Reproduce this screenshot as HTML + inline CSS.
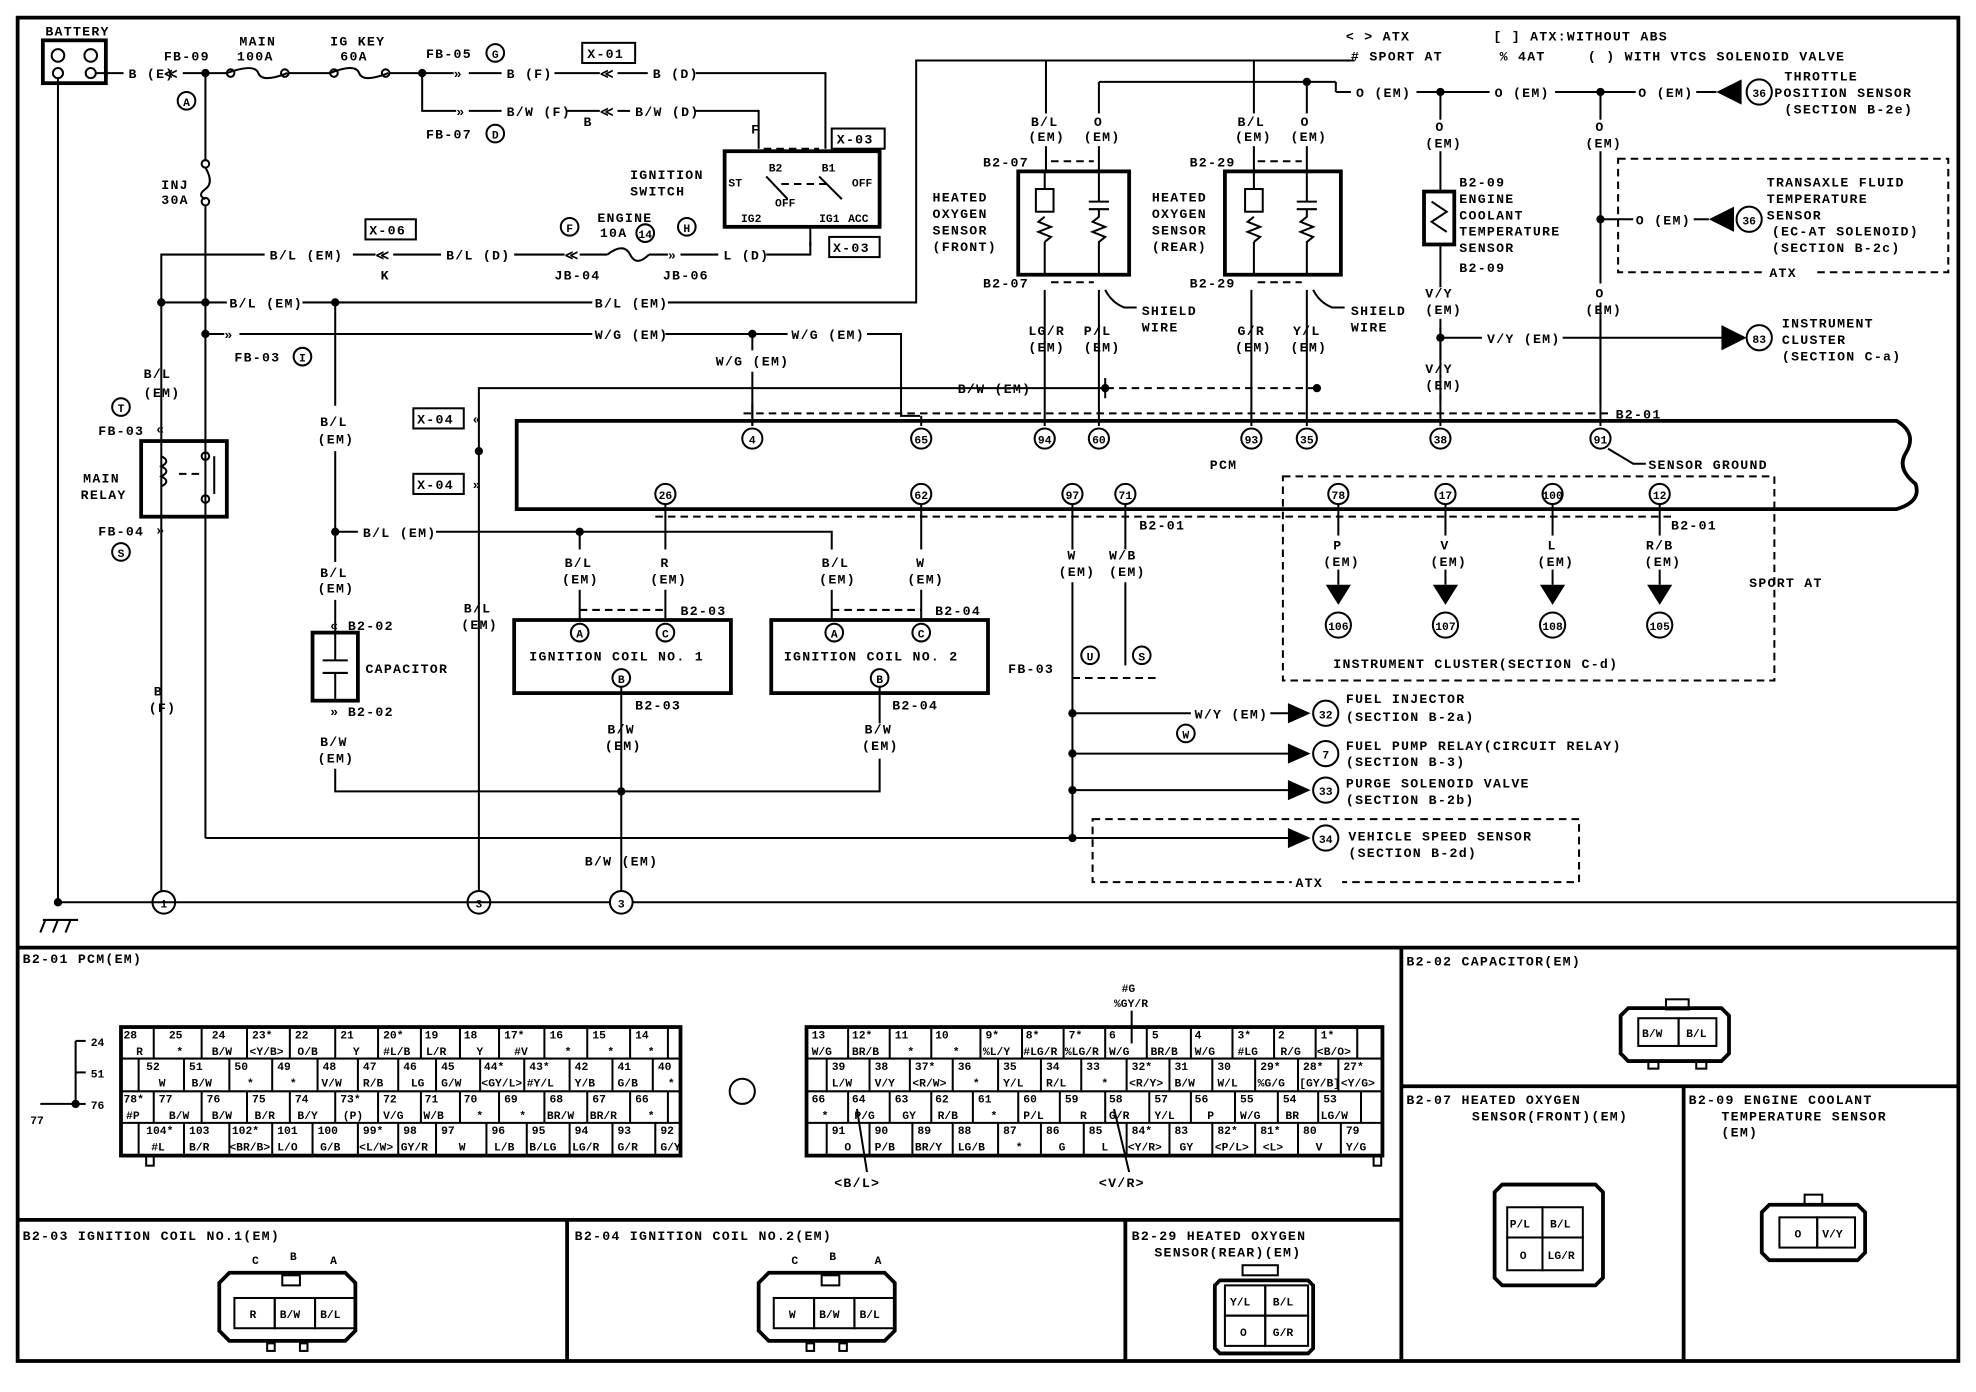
<!DOCTYPE html>
<html><head><meta charset="utf-8"><style>
html,body{margin:0;padding:0;background:#fff;}
svg{display:block}
text{font-family:"Liberation Mono",monospace;font-weight:bold;font-size:10.5px;fill:#000;letter-spacing:1px}
.s{font-size:9px;letter-spacing:0}
.c{text-anchor:middle}
line,polyline,path,rect,circle{stroke:#000;fill:none;stroke-width:1.6}
.t{stroke-width:3}
.d{stroke-dasharray:6 4}
.f{fill:#000}
.w{fill:#fff}
</style></head><body>
<svg width="1976" height="1392" viewBox="0 0 1568 1104.6" preserveAspectRatio="none">
<rect x="14" y="14" width="1540" height="1066" class="t"/>
<line x1="14" y1="752" x2="1554" y2="752" class="t"/>
<line x1="1112" y1="752" x2="1112" y2="1080" class="t"/>
<line x1="1112" y1="862" x2="1554" y2="862" class="t"/>
<line x1="1336" y1="862" x2="1336" y2="1080" class="t"/>
<line x1="14" y1="968" x2="1112" y2="968" class="t"/>
<line x1="450" y1="968" x2="450" y2="1080" class="t"/>
<line x1="893" y1="968" x2="893" y2="1080" class="t"/>

<!-- legend -->
<text x="1068" y="32">&lt; &gt; ATX</text><text x="1185" y="32">[ ] ATX:WITHOUT ABS</text>
<text x="1072" y="48"># SPORT AT</text><text x="1190" y="48">% 4AT</text><text x="1260" y="48">( ) WITH VTCS SOLENOID VALVE</text>

<!-- battery -->
<text x="36" y="28">BATTERY</text>
<rect x="34" y="32" width="50" height="34" class="t"/>
<circle cx="46" cy="44" r="5"/><circle cx="72" cy="44" r="5"/>
<circle cx="46" cy="58" r="4"/><circle cx="72" cy="58" r="4"/>
<line x1="46" y1="62" x2="46" y2="716"/>
<line x1="76" y1="58" x2="98" y2="58"/>
<text x="102" y="62">B (E)</text>
<text x="130" y="48">FB-09</text><text x="130" y="62">≪</text>
<circle cx="148" cy="80" r="7"/><text x="148" y="84" class="c s">A</text>
<line x1="145" y1="58" x2="180" y2="58"/><circle cx="163" cy="58" r="2.5" class="f"/>
<text x="190" y="36">MAIN</text><text x="188" y="48">100A</text>
<path d="M180 58 Q 202 50 205 58 T 228 58"/><circle cx="183" cy="58" r="3"/><circle cx="226" cy="58" r="3"/>
<line x1="229" y1="58" x2="262" y2="58"/>
<text x="262" y="36">IG KEY</text><text x="270" y="48">60A</text>
<path d="M262 58 Q 282 50 285 58 T 308 58"/><circle cx="265" cy="58" r="3"/><circle cx="306" cy="58" r="3"/>
<line x1="309" y1="58" x2="360" y2="58"/><circle cx="335" cy="58" r="2.5" class="f"/>
<text x="338" y="46">FB-05</text><circle cx="393" cy="42" r="7"/><text x="393" y="46" class="c s">G</text>
<text x="360" y="62">»</text><line x1="372" y1="58" x2="398" y2="58"/><text x="402" y="62">B (F)</text>
<line x1="440" y1="58" x2="476" y2="58"/><text x="476" y="62">≪</text>
<rect x="462" y="34" width="42" height="16"/><text x="466" y="46">X-01</text>
<line x1="490" y1="58" x2="514" y2="58"/><text x="518" y="62">B (D)</text>
<polyline points="552,58 655,58 655,118"/>
<polyline points="335,58 335,88 362,88"/><text x="362" y="92">»</text>
<line x1="372" y1="88" x2="398" y2="88"/><text x="402" y="92">B/W (F)</text>
<line x1="450" y1="88" x2="476" y2="88"/><text x="476" y="92">≪</text><text x="463" y="100">B</text>
<line x1="490" y1="88" x2="500" y2="88"/><text x="504" y="92">B/W (D)</text>
<polyline points="552,88 602,88 602,118"/>
<text x="338" y="110">FB-07</text><circle cx="393" cy="106" r="7"/><text x="393" y="110" class="c s">D</text>
<text x="596" y="106">F</text>
<line x1="606" y1="118" x2="650" y2="118" class="d"/>
<rect x="660" y="102" width="42" height="16"/><text x="664" y="114">X-03</text>
<rect x="575" y="120" width="123" height="60" class="t"/>
<text x="500" y="142">IGNITION</text><text x="500" y="155">SWITCH</text>
<text x="578" y="148" class="s">ST</text><text x="610" y="136" class="s">B2</text><text x="652" y="136" class="s">B1</text>
<text x="615" y="164" class="s">OFF</text><text x="676" y="148" class="s">OFF</text>
<text x="588" y="176" class="s">IG2</text><text x="650" y="176" class="s">IG1</text><text x="673" y="176" class="s">ACC</text>
<line x1="608" y1="140" x2="625" y2="158"/><line x1="650" y1="140" x2="668" y2="158"/>
<line x1="620" y1="146" x2="656" y2="146" class="d"/>
<polyline points="643,180 643,195"/>
<rect x="658" y="188" width="40" height="16"/><text x="661" y="200">X-03</text>

<!-- INJ fuse and main vertical -->
<line x1="163" y1="58" x2="163" y2="128"/>
<circle cx="163" cy="130" r="3"/><path d="M163 133 Q 170 145 163 150 T 163 158"/><circle cx="163" cy="160" r="3"/>
<text x="128" y="150">INJ</text><text x="128" y="162">30A</text>
<line x1="163" y1="163" x2="163" y2="665"/>
<polyline points="163,665 850,665"/>
<circle cx="163" cy="240" r="2.5" class="f"/><circle cx="163" cy="265" r="2.5" class="f"/>

<!-- y=202 -->
<polyline points="128,716 128,202 210,202"/>
<text x="214" y="206">B/L (EM)</text>
<line x1="280" y1="202" x2="298" y2="202"/><text x="298" y="206">≪</text><text x="302" y="222">K</text>
<rect x="290" y="174" width="40" height="16"/><text x="293" y="186">X-06</text>
<line x1="312" y1="202" x2="350" y2="202"/><text x="354" y="206">B/L (D)</text>
<line x1="408" y1="202" x2="448" y2="202"/><text x="448" y="206">≪</text>
<circle cx="452" cy="180" r="7"/><text x="452" y="184" class="c s">F</text>
<text x="440" y="222">JB-04</text>
<text x="474" y="176">ENGINE</text><text x="476" y="188">10A</text><circle cx="512" cy="185" r="7"/><text x="512" y="189" class="c s">14</text>
<line x1="460" y1="202" x2="482" y2="202"/><path d="M482 202 Q 495 192 500 202 T 515 202"/>
<line x1="515" y1="202" x2="530" y2="202"/><text x="530" y="206">»</text>
<circle cx="545" cy="180" r="7"/><text x="545" y="184" class="c s">H</text>
<text x="526" y="222">JB-06</text>
<line x1="540" y1="202" x2="570" y2="202"/><text x="574" y="206">L (D)</text>
<polyline points="608,202 643,202 643,192"/>

<!-- y=240 -->
<circle cx="128" cy="240" r="2.5" class="f"/>
<line x1="128" y1="240" x2="180" y2="240"/><text x="182" y="244">B/L (EM)</text>
<line x1="240" y1="240" x2="470" y2="240"/><text x="472" y="244">B/L (EM)</text>
<polyline points="530,240 727,240 727,48 1075,48"/>
<circle cx="266" cy="240" r="2.5" class="f"/>
<line x1="266" y1="240" x2="266" y2="322"/>
<text x="254" y="338">B/L</text><text x="252" y="352">(EM)</text>
<line x1="266" y1="358" x2="266" y2="446"/><circle cx="266" cy="422" r="2.5" class="f"/>
<line x1="266" y1="422" x2="284" y2="422"/><text x="288" y="426">B/L (EM)</text>
<polyline points="346,422 460,422 460,436"/><circle cx="460" cy="422" r="2.5" class="f"/>
<polyline points="460,422 660,422 660,436"/>
<text x="254" y="458">B/L</text><text x="252" y="470">(EM)</text>
<line x1="266" y1="476" x2="266" y2="502"/><text x="262" y="500">«</text><text x="276" y="500">B2-02</text>
<rect x="248" y="502" width="36" height="54" class="t"/>
<line x1="256" y1="524" x2="276" y2="524"/><line x1="256" y1="534" x2="276" y2="534"/>
<line x1="266" y1="502" x2="266" y2="524"/><line x1="266" y1="534" x2="266" y2="556"/>
<text x="290" y="534">CAPACITOR</text>
<text x="262" y="568">»</text><text x="276" y="568">B2-02</text>
<text x="254" y="592">B/W</text><text x="252" y="605">(EM)</text>
<polyline points="266,610 266,628 698,628 698,602"/>

<!-- y=265 -->
<line x1="163" y1="265" x2="178" y2="265"/><text x="178" y="269">»</text>
<line x1="190" y1="265" x2="470" y2="265"/><text x="472" y="269">W/G (EM)</text>
<line x1="528" y1="265" x2="625" y2="265"/><circle cx="597" cy="265" r="2.5" class="f"/>
<text x="628" y="269">W/G (EM)</text><polyline points="688,265 715,265 715,330 730,330"/>
<line x1="597" y1="265" x2="597" y2="278"/><text x="568" y="290">W/G (EM)</text><line x1="597" y1="295" x2="597" y2="338"/>
<text x="186" y="287">FB-03</text><circle cx="240" cy="283" r="7"/><text x="240" y="287" class="c s">I</text>

<!-- relay -->
<text x="114" y="300">B/L</text><text x="114" y="303" dy="12">(EM)</text>
<circle cx="96" cy="323" r="7"/><text x="96" y="327" class="c s">T</text>
<text x="78" y="345">FB-03</text><text x="124" y="344">«</text>
<rect x="112" y="350" width="68" height="60" class="t"/>
<text x="66" y="383">MAIN</text><text x="64" y="396">RELAY</text>
<path d="M128 362 q 8 4 0 8 q 8 4 0 8 q 8 4 0 8"/><line x1="142" y1="376" x2="160" y2="376" class="d"/>
<circle cx="163" cy="362" r="3"/><circle cx="163" cy="396" r="3"/><line x1="170" y1="362" x2="170" y2="392"/>
<text x="78" y="425">FB-04</text><text x="124" y="424">»</text>
<circle cx="96" cy="438" r="7"/><text x="96" y="442" class="c s">S</text>
<text x="122" y="552">B</text><text x="118" y="565">(F)</text>
<circle cx="130" cy="716" r="9" class="w"/><text x="130" y="720" class="c s">1</text>

<!-- B/W y=308 -->
<polyline points="380,716 380,308 878,308"/><line x1="878" y1="308" x2="1045" y2="308" class="d"/>
<text x="760" y="312">B/W (EM)</text>
<circle cx="380" cy="358" r="2.5" class="f"/>
<rect x="328" y="324" width="40" height="16"/><text x="331" y="336">X-04</text><text x="375" y="336">«</text>
<rect x="328" y="376" width="40" height="16"/><text x="331" y="388">X-04</text><text x="375" y="388">»</text>
<text x="368" y="486">B/L</text><text x="366" y="499">(EM)</text>
<circle cx="380" cy="716" r="9" class="w"/><text x="380" y="720" class="c s">3</text>

<!-- ground line -->
<line x1="46" y1="716" x2="1554" y2="716"/>
<circle cx="46" cy="716" r="2.5" class="f"/>
<line x1="34" y1="730" x2="62" y2="730"/><line x1="36" y1="730" x2="32" y2="740"/><line x1="46" y1="730" x2="42" y2="740"/><line x1="56" y1="730" x2="52" y2="740"/>

<!-- PCM -->
<path d="M410 334 L1505 334 Q1522 344 1512 360 Q1505 372 1520 384 Q1525 398 1505 404 L410 404 Z" class="t"/>
<text x="960" y="372">PCM</text>
<line x1="590" y1="328" x2="1280" y2="328" class="d"/>
<line x1="520" y1="410" x2="1330" y2="410" class="d"/>
<g>
<line x1="597" y1="320" x2="597" y2="338"/><circle cx="597" cy="348" r="8" class="w"/><text x="597" y="352" class="c s">4</text>
<line x1="731" y1="330" x2="731" y2="338"/><circle cx="731" cy="348" r="8" class="w"/><text x="731" y="352" class="c s">65</text>
<line x1="829" y1="230" x2="829" y2="338"/><circle cx="829" cy="348" r="8" class="w"/><text x="829" y="352" class="c s">94</text>
<line x1="872" y1="230" x2="872" y2="338"/><circle cx="872" cy="348" r="8" class="w"/><text x="872" y="352" class="c s">60</text>
<line x1="993" y1="230" x2="993" y2="338"/><circle cx="993" cy="348" r="8" class="w"/><text x="993" y="352" class="c s">93</text>
<line x1="1037" y1="230" x2="1037" y2="338"/><circle cx="1037" cy="348" r="8" class="w"/><text x="1037" y="352" class="c s">35</text>
<line x1="1143" y1="260" x2="1143" y2="338"/><circle cx="1143" cy="348" r="8" class="w"/><text x="1143" y="352" class="c s">38</text>
<line x1="1270" y1="240" x2="1270" y2="338"/><circle cx="1270" cy="348" r="8" class="w"/><text x="1270" y="352" class="c s">91</text>
<text x="1282" y="332">B2-01</text>
<polyline points="1276,356 1296,368 1306,368"/><text x="1308" y="372">SENSOR GROUND</text>
<line x1="877" y1="300" x2="877" y2="316"/><circle cx="877" cy="308" r="2.5" class="f"/><circle cx="1045" cy="308" r="2.5" class="f"/>
</g>
<g>
<circle cx="528" cy="392" r="8" class="w"/><text x="528" y="396" class="c s">26</text><line x1="528" y1="400" x2="528" y2="436"/>
<circle cx="731" cy="392" r="8" class="w"/><text x="731" y="396" class="c s">62</text><line x1="731" y1="400" x2="731" y2="436"/>
<circle cx="851" cy="392" r="8" class="w"/><text x="851" y="396" class="c s">97</text><line x1="851" y1="400" x2="851" y2="436"/>
<circle cx="893" cy="392" r="8" class="w"/><text x="893" y="396" class="c s">71</text><line x1="893" y1="400" x2="893" y2="436"/>
<text x="904" y="420">B2-01</text>
<text x="448" y="450">B/L</text><text x="446" y="463">(EM)</text>
<text x="524" y="450">R</text><text x="516" y="463">(EM)</text>
<text x="652" y="450">B/L</text><text x="650" y="463">(EM)</text>
<text x="727" y="450">W</text><text x="720" y="463">(EM)</text>
<text x="847" y="444">W</text><text x="840" y="457">(EM)</text>
<text x="880" y="444">W/B</text><text x="880" y="457">(EM)</text>
</g>
<!-- coils -->
<line x1="460" y1="468" x2="460" y2="492"/><line x1="528" y1="468" x2="528" y2="492"/>
<line x1="460" y1="484" x2="528" y2="484" class="d"/><text x="540" y="488">B2-03</text>
<rect x="408" y="492" width="172" height="58" class="t"/>
<circle cx="460" cy="502" r="7"/><text x="460" y="506" class="c s">A</text>
<circle cx="528" cy="502" r="7"/><text x="528" y="506" class="c s">C</text>
<text x="420" y="524">IGNITION COIL NO. 1</text>
<circle cx="493" cy="538" r="7"/><text x="493" y="542" class="c s">B</text>
<line x1="493" y1="545" x2="493" y2="716"/><text x="504" y="563">B2-03</text>
<text x="482" y="582">B/W</text><text x="480" y="595">(EM)</text>
<circle cx="493" cy="628" r="2.5" class="f"/>
<text x="464" y="687">B/W (EM)</text>
<circle cx="493" cy="716" r="9" class="w"/><text x="493" y="720" class="c s">3</text>
<line x1="660" y1="468" x2="660" y2="492"/><line x1="731" y1="468" x2="731" y2="492"/>
<line x1="660" y1="484" x2="731" y2="484" class="d"/><text x="742" y="488">B2-04</text>
<rect x="612" y="492" width="172" height="58" class="t"/>
<circle cx="662" cy="502" r="7"/><text x="662" y="506" class="c s">A</text>
<circle cx="731" cy="502" r="7"/><text x="731" y="506" class="c s">C</text>
<text x="622" y="524">IGNITION COIL NO. 2</text>
<circle cx="698" cy="538" r="7"/><text x="698" y="542" class="c s">B</text>
<line x1="698" y1="545" x2="698" y2="574"/><text x="708" y="563">B2-04</text>
<text x="686" y="582">B/W</text><text x="684" y="595">(EM)</text>

<!-- right lower feeds -->
<line x1="851" y1="462" x2="851" y2="665"/><line x1="893" y1="462" x2="893" y2="528"/>
<line x1="851" y1="538" x2="920" y2="538" class="d"/>
<text x="800" y="534">FB-03</text>
<circle cx="865" cy="520" r="7"/><text x="865" y="524" class="c s">U</text>
<circle cx="906" cy="520" r="7"/><text x="906" y="524" class="c s">S</text>
<polyline points="851,566 945,566"/><text x="948" y="570">W/Y (EM)</text><line x1="1008" y1="566" x2="1022" y2="566"/>
<circle cx="941" cy="582" r="7"/><text x="941" y="586" class="c s">W</text>
<line x1="851" y1="598" x2="1022" y2="598"/><line x1="851" y1="627" x2="1022" y2="627"/>
<line x1="850" y1="665" x2="1022" y2="665"/>
<circle cx="851" cy="566" r="2.5" class="f"/><circle cx="851" cy="598" r="2.5" class="f"/><circle cx="851" cy="627" r="2.5" class="f"/><circle cx="851" cy="665" r="2.5" class="f"/>
<g>
<polygon points="1022,558 1040,566 1022,574" class="f"/><circle cx="1052" cy="566" r="10" class="w"/><text x="1052" y="570" class="c s">32</text>
<text x="1068" y="558">FUEL INJECTOR</text><text x="1068" y="572">(SECTION B-2a)</text>
<polygon points="1022,590 1040,598 1022,606" class="f"/><circle cx="1052" cy="598" r="10" class="w"/><text x="1052" y="602" class="c s">7</text>
<text x="1068" y="595">FUEL PUMP RELAY(CIRCUIT RELAY)</text><text x="1068" y="608">(SECTION B-3)</text>
<polygon points="1022,619 1040,627 1022,635" class="f"/><circle cx="1052" cy="627" r="10" class="w"/><text x="1052" y="631" class="c s">33</text>
<text x="1068" y="625">PURGE SOLENOID VALVE</text><text x="1068" y="638">(SECTION B-2b)</text>
<polygon points="1022,657 1040,665 1022,673" class="f"/><circle cx="1052" cy="665" r="10" class="w"/><text x="1052" y="669" class="c s">34</text>
<text x="1070" y="667">VEHICLE SPEED SENSOR</text><text x="1070" y="680">(SECTION B-2d)</text>
</g>
<rect x="867" y="650" width="386" height="50" class="d"/><rect x="1025" y="695" width="40" height="10" style="fill:#fff;stroke:none"/><text x="1028" y="704">ATX</text>

<!-- sport AT -->
<rect x="1018" y="378" width="390" height="162" class="d"/>
<text x="1388" y="466">SPORT AT</text>
<g>
<circle cx="1062" cy="392" r="8" class="w"/><text x="1062" y="396" class="c s">78</text>
<circle cx="1147" cy="392" r="8" class="w"/><text x="1147" y="396" class="c s">17</text>
<circle cx="1232" cy="392" r="8" class="w"/><text x="1232" y="396" class="c s">100</text>
<circle cx="1317" cy="392" r="8" class="w"/><text x="1317" y="396" class="c s">12</text>
<text x="1326" y="420">B2-01</text>
<line x1="1062" y1="400" x2="1062" y2="425"/><line x1="1147" y1="400" x2="1147" y2="425"/><line x1="1232" y1="400" x2="1232" y2="425"/><line x1="1317" y1="400" x2="1317" y2="425"/>
<text x="1058" y="436">P</text><text x="1050" y="449">(EM)</text>
<text x="1143" y="436">V</text><text x="1135" y="449">(EM)</text>
<text x="1228" y="436">L</text><text x="1220" y="449">(EM)</text>
<text x="1306" y="436">R/B</text><text x="1305" y="449">(EM)</text>
<polygon points="1052,464 1072,464 1062,480" class="f"/><circle cx="1062" cy="496" r="10" class="w"/><text x="1062" y="500" class="c s">106</text>
<polygon points="1137,464 1157,464 1147,480" class="f"/><circle cx="1147" cy="496" r="10" class="w"/><text x="1147" y="500" class="c s">107</text>
<polygon points="1222,464 1242,464 1232,480" class="f"/><circle cx="1232" cy="496" r="10" class="w"/><text x="1232" y="500" class="c s">108</text>
<polygon points="1307,464 1327,464 1317,480" class="f"/><circle cx="1317" cy="496" r="10" class="w"/><text x="1317" y="500" class="c s">105</text>
<line x1="1062" y1="452" x2="1062" y2="464"/><line x1="1147" y1="452" x2="1147" y2="464"/><line x1="1232" y1="452" x2="1232" y2="464"/><line x1="1317" y1="452" x2="1317" y2="464"/>
</g>
<text x="1058" y="530">INSTRUMENT CLUSTER(SECTION C-d)</text>

<!-- O2 sensors -->
<line x1="830" y1="48" x2="830" y2="90"/><text x="818" y="100">B/L</text><text x="816" y="112">(EM)</text>
<polyline points="872,65 872,90"/><line x1="872" y1="65" x2="1060" y2="65"/>
<text x="868" y="100">O</text><text x="860" y="112">(EM)</text>
<line x1="830" y1="116" x2="830" y2="136"/><line x1="872" y1="116" x2="872" y2="136"/>
<text x="780" y="132">B2-07</text><line x1="834" y1="128" x2="868" y2="128" class="d"/>
<rect x="808" y="136" width="88" height="82" class="t"/>
<text x="740" y="160">HEATED</text><text x="740" y="173">OXYGEN</text><text x="740" y="186">SENSOR</text><text x="740" y="199">(FRONT)</text>
<rect x="822" y="150" width="14" height="18"/><path d="M829 172 l-5 4 l10 4 l-10 4 l10 4 l-5 4"/>
<line x1="829" y1="136" x2="829" y2="150"/><line x1="829" y1="192" x2="829" y2="218"/>
<line x1="872" y1="136" x2="872" y2="160"/><line x1="864" y1="160" x2="880" y2="160"/><line x1="864" y1="166" x2="880" y2="166"/>
<path d="M872 166 v6 l-5 4 l10 4 l-10 4 l10 4 l-5 4 v26"/>
<text x="780" y="228">B2-07</text><line x1="834" y1="224" x2="868" y2="224" class="d"/>
<text x="816" y="266">LG/R</text><text x="816" y="279">(EM)</text>
<text x="860" y="266">P/L</text><text x="860" y="279">(EM)</text>
<path d="M877 230 q 5 10 15 14 l10 0"/><text x="906" y="250">SHIELD</text><text x="906" y="263">WIRE</text>

<line x1="995" y1="48" x2="995" y2="90"/><text x="982" y="100">B/L</text><text x="980" y="112">(EM)</text>
<line x1="1037" y1="65" x2="1037" y2="90"/><circle cx="1037" cy="65" r="2.5" class="f"/>
<text x="1032" y="100">O</text><text x="1024" y="112">(EM)</text>
<line x1="995" y1="116" x2="995" y2="136"/><line x1="1037" y1="116" x2="1037" y2="136"/>
<text x="944" y="132">B2-29</text><line x1="998" y1="128" x2="1033" y2="128" class="d"/>
<rect x="972" y="136" width="92" height="82" class="t"/>
<text x="914" y="160">HEATED</text><text x="914" y="173">OXYGEN</text><text x="914" y="186">SENSOR</text><text x="914" y="199">(REAR)</text>
<rect x="988" y="150" width="14" height="18"/><path d="M995 172 l-5 4 l10 4 l-10 4 l10 4 l-5 4"/>
<line x1="995" y1="136" x2="995" y2="150"/><line x1="995" y1="192" x2="995" y2="218"/>
<line x1="1037" y1="136" x2="1037" y2="160"/><line x1="1029" y1="160" x2="1045" y2="160"/><line x1="1029" y1="166" x2="1045" y2="166"/>
<path d="M1037 166 v6 l-5 4 l10 4 l-10 4 l10 4 l-5 4 v26"/>
<text x="944" y="228">B2-29</text><line x1="998" y1="224" x2="1033" y2="224" class="d"/>
<text x="982" y="266">G/R</text><text x="980" y="279">(EM)</text>
<text x="1026" y="266">Y/L</text><text x="1024" y="279">(EM)</text>
<path d="M1042 230 q 5 10 15 14 l10 0"/><text x="1072" y="250">SHIELD</text><text x="1072" y="263">WIRE</text>

<!-- O(EM) line right -->
<text x="1076" y="77">O (EM)</text><line x1="1124" y1="73" x2="1182" y2="73"/><circle cx="1143" cy="73" r="2.5" class="f"/>
<line x1="1060" y1="65" x2="1060" y2="73"/><line x1="1060" y1="73" x2="1072" y2="73"/>
<text x="1186" y="77">O (EM)</text><line x1="1234" y1="73" x2="1298" y2="73"/><circle cx="1270" cy="73" r="2.5" class="f"/>
<text x="1300" y="77">O (EM)</text><line x1="1346" y1="73" x2="1362" y2="73"/>
<polygon points="1382,63 1362,73 1382,83" class="f"/><circle cx="1396" cy="73" r="10" class="w"/><text x="1396" y="77" class="c s">36</text>
<text x="1416" y="64">THROTTLE</text><text x="1408" y="77">POSITION SENSOR</text><text x="1416" y="90">(SECTION B-2e)</text>
<line x1="1143" y1="73" x2="1143" y2="95"/><text x="1139" y="104">O</text><text x="1131" y="117">(EM)</text>
<line x1="1143" y1="120" x2="1143" y2="152"/>
<rect x="1130" y="152" width="24" height="42" class="t"/><path d="M1136 160 l12 8 l-12 8 l12 8"/>
<text x="1158" y="148">B2-09</text><text x="1158" y="161">ENGINE</text><text x="1158" y="174">COOLANT</text><text x="1158" y="187">TEMPERATURE</text><text x="1158" y="200">SENSOR</text><text x="1158" y="216">B2-09</text>
<line x1="1143" y1="194" x2="1143" y2="228"/>
<text x="1131" y="236">V/Y</text><text x="1131" y="249">(EM)</text>
<line x1="1143" y1="253" x2="1143" y2="286"/><circle cx="1143" cy="268" r="2.5" class="f"/>
<line x1="1143" y1="268" x2="1176" y2="268"/><text x="1180" y="272">V/Y (EM)</text><line x1="1240" y1="268" x2="1366" y2="268"/>
<polygon points="1366,258 1386,268 1366,278" class="f"/><circle cx="1396" cy="268" r="10" class="w"/><text x="1396" y="272" class="c s">83</text>
<text x="1414" y="260">INSTRUMENT</text><text x="1414" y="273">CLUSTER</text><text x="1414" y="286">(SECTION C-a)</text>
<text x="1131" y="296">V/Y</text><text x="1131" y="309">(EM)</text><line x1="1143" y1="313" x2="1143" y2="320"/>
<line x1="1270" y1="73" x2="1270" y2="95"/><text x="1266" y="104">O</text><text x="1258" y="117">(EM)</text>
<line x1="1270" y1="120" x2="1270" y2="225"/><circle cx="1270" cy="174" r="2.5" class="f"/>
<line x1="1270" y1="174" x2="1296" y2="174"/><text x="1298" y="178">O (EM)</text><line x1="1344" y1="174" x2="1356" y2="174"/>
<polygon points="1376,164 1356,174 1376,184" class="f"/><circle cx="1388" cy="174" r="10" class="w"/><text x="1388" y="178" class="c s">36</text>
<text x="1402" y="148">TRANSAXLE FLUID</text><text x="1402" y="161">TEMPERATURE</text><text x="1402" y="174">SENSOR</text><text x="1406" y="187">(EC-AT SOLENOID)</text><text x="1406" y="200">(SECTION B-2c)</text>
<rect x="1284" y="126" width="262" height="90" class="d"/><rect x="1400" y="211" width="40" height="10" style="fill:#fff;stroke:none"/><text x="1404" y="220">ATX</text>
<text x="1266" y="236">O</text><text x="1258" y="249">(EM)</text><line x1="1270" y1="253" x2="1270" y2="320"/>

<!-- bottom: PCM connector -->
<text x="18" y="764">B2-01 PCM(EM)</text>
<text x="18" y="766" dy="0"></text>
<polyline points="60,826 60,876 32,876"/><line x1="60" y1="826" x2="68" y2="826"/><line x1="60" y1="851" x2="68" y2="851"/><line x1="60" y1="876" x2="68" y2="876"/>
<circle cx="60" cy="876" r="2.5" class="f"/>
<text x="72" y="830" class="s">24</text><text x="72" y="855" class="s">51</text><text x="72" y="880" class="s">76</text><text x="24" y="892" class="s">77</text>
<rect x="96" y="815" width="444" height="102" class="t"/>
<g class="s">
<line x1="96" y1="840" x2="540" y2="840"/><line x1="96" y1="866" x2="540" y2="866"/><line x1="96" y1="891" x2="540" y2="891"/>
</g>
<!-- row1 -->
<g>
<line x1="122" y1="815" x2="122" y2="840"/><line x1="160" y1="815" x2="160" y2="840"/><line x1="196" y1="815" x2="196" y2="840"/><line x1="230" y1="815" x2="230" y2="840"/><line x1="266" y1="815" x2="266" y2="840"/><line x1="300" y1="815" x2="300" y2="840"/><line x1="334" y1="815" x2="334" y2="840"/><line x1="365" y1="815" x2="365" y2="840"/><line x1="396" y1="815" x2="396" y2="840"/><line x1="432" y1="815" x2="432" y2="840"/><line x1="466" y1="815" x2="466" y2="840"/><line x1="500" y1="815" x2="500" y2="840"/><line x1="530" y1="815" x2="530" y2="840"/>
<text x="98" y="824" class="s">28</text><text x="108" y="837" class="s">R</text>
<text x="134" y="824" class="s">25</text><text x="140" y="837" class="s">*</text>
<text x="168" y="824" class="s">24</text><text x="168" y="837" class="s">B/W</text>
<text x="200" y="824" class="s">23*</text><text x="198" y="837" class="s">&lt;Y/B&gt;</text>
<text x="234" y="824" class="s">22</text><text x="236" y="837" class="s">O/B</text>
<text x="270" y="824" class="s">21</text><text x="280" y="837" class="s">Y</text>
<text x="304" y="824" class="s">20*</text><text x="304" y="837" class="s">#L/B</text>
<text x="337" y="824" class="s">19</text><text x="338" y="837" class="s">L/R</text>
<text x="368" y="824" class="s">18</text><text x="378" y="837" class="s">Y</text>
<text x="400" y="824" class="s">17*</text><text x="408" y="837" class="s">#V</text>
<text x="436" y="824" class="s">16</text><text x="448" y="837" class="s">*</text>
<text x="470" y="824" class="s">15</text><text x="482" y="837" class="s">*</text>
<text x="504" y="824" class="s">14</text><text x="514" y="837" class="s">*</text>
</g>
<g>
<line x1="110" y1="840" x2="110" y2="866"/><line x1="146" y1="840" x2="146" y2="866"/><line x1="182" y1="840" x2="182" y2="866"/><line x1="216" y1="840" x2="216" y2="866"/><line x1="252" y1="840" x2="252" y2="866"/><line x1="284" y1="840" x2="284" y2="866"/><line x1="316" y1="840" x2="316" y2="866"/><line x1="346" y1="840" x2="346" y2="866"/><line x1="381" y1="840" x2="381" y2="866"/><line x1="416" y1="840" x2="416" y2="866"/><line x1="452" y1="840" x2="452" y2="866"/><line x1="486" y1="840" x2="486" y2="866"/><line x1="518" y1="840" x2="518" y2="866"/>
<text x="116" y="849" class="s">52</text><text x="126" y="862" class="s">W</text>
<text x="150" y="849" class="s">51</text><text x="152" y="862" class="s">B/W</text>
<text x="186" y="849" class="s">50</text><text x="196" y="862" class="s">*</text>
<text x="220" y="849" class="s">49</text><text x="230" y="862" class="s">*</text>
<text x="256" y="849" class="s">48</text><text x="255" y="862" class="s">V/W</text>
<text x="288" y="849" class="s">47</text><text x="288" y="862" class="s">R/B</text>
<text x="320" y="849" class="s">46</text><text x="326" y="862" class="s">LG</text>
<text x="350" y="849" class="s">45</text><text x="350" y="862" class="s">G/W</text>
<text x="384" y="849" class="s">44*</text><text x="382" y="862" class="s">&lt;GY/L&gt;</text>
<text x="420" y="849" class="s">43*</text><text x="418" y="862" class="s">#Y/L</text>
<text x="456" y="849" class="s">42</text><text x="456" y="862" class="s">Y/B</text>
<text x="490" y="849" class="s">41</text><text x="490" y="862" class="s">G/B</text>
<text x="522" y="849" class="s">40</text><text x="530" y="862" class="s">*</text>
</g>
<g>
<line x1="122" y1="866" x2="122" y2="891"/><line x1="160" y1="866" x2="160" y2="891"/><line x1="196" y1="866" x2="196" y2="891"/><line x1="230" y1="866" x2="230" y2="891"/><line x1="266" y1="866" x2="266" y2="891"/><line x1="300" y1="866" x2="300" y2="891"/><line x1="334" y1="866" x2="334" y2="891"/><line x1="365" y1="866" x2="365" y2="891"/><line x1="396" y1="866" x2="396" y2="891"/><line x1="432" y1="866" x2="432" y2="891"/><line x1="466" y1="866" x2="466" y2="891"/><line x1="500" y1="866" x2="500" y2="891"/><line x1="530" y1="866" x2="530" y2="891"/>
<text x="98" y="875" class="s">78*</text><text x="100" y="888" class="s">#P</text>
<text x="126" y="875" class="s">77</text><text x="134" y="888" class="s">B/W</text>
<text x="164" y="875" class="s">76</text><text x="168" y="888" class="s">B/W</text>
<text x="200" y="875" class="s">75</text><text x="202" y="888" class="s">B/R</text>
<text x="234" y="875" class="s">74</text><text x="236" y="888" class="s">B/Y</text>
<text x="270" y="875" class="s">73*</text><text x="272" y="888" class="s">(P)</text>
<text x="304" y="875" class="s">72</text><text x="304" y="888" class="s">V/G</text>
<text x="337" y="875" class="s">71</text><text x="336" y="888" class="s">W/B</text>
<text x="368" y="875" class="s">70</text><text x="378" y="888" class="s">*</text>
<text x="400" y="875" class="s">69</text><text x="412" y="888" class="s">*</text>
<text x="436" y="875" class="s">68</text><text x="434" y="888" class="s">BR/W</text>
<text x="470" y="875" class="s">67</text><text x="468" y="888" class="s">BR/R</text>
<text x="504" y="875" class="s">66</text><text x="514" y="888" class="s">*</text>
</g>
<g>
<line x1="110" y1="891" x2="110" y2="917"/><line x1="146" y1="891" x2="146" y2="917"/><line x1="182" y1="891" x2="182" y2="917"/><line x1="216" y1="891" x2="216" y2="917"/><line x1="248" y1="891" x2="248" y2="917"/><line x1="284" y1="891" x2="284" y2="917"/><line x1="316" y1="891" x2="316" y2="917"/><line x1="346" y1="891" x2="346" y2="917"/><line x1="386" y1="891" x2="386" y2="917"/><line x1="418" y1="891" x2="418" y2="917"/><line x1="452" y1="891" x2="452" y2="917"/><line x1="486" y1="891" x2="486" y2="917"/><line x1="520" y1="891" x2="520" y2="917"/>
<text x="116" y="900" class="s">104*</text><text x="120" y="913" class="s">#L</text>
<text x="150" y="900" class="s">103</text><text x="150" y="913" class="s">B/R</text>
<text x="184" y="900" class="s">102*</text><text x="182" y="913" class="s">&lt;BR/B&gt;</text>
<text x="220" y="900" class="s">101</text><text x="220" y="913" class="s">L/O</text>
<text x="252" y="900" class="s">100</text><text x="254" y="913" class="s">G/B</text>
<text x="288" y="900" class="s">99*</text><text x="285" y="913" class="s">&lt;L/W&gt;</text>
<text x="320" y="900" class="s">98</text><text x="318" y="913" class="s">GY/R</text>
<text x="350" y="900" class="s">97</text><text x="364" y="913" class="s">W</text>
<text x="390" y="900" class="s">96</text><text x="392" y="913" class="s">L/B</text>
<text x="422" y="900" class="s">95</text><text x="420" y="913" class="s">B/LG</text>
<text x="456" y="900" class="s">94</text><text x="454" y="913" class="s">LG/R</text>
<text x="490" y="900" class="s">93</text><text x="490" y="913" class="s">G/R</text>
<text x="524" y="900" class="s">92</text><text x="524" y="913" class="s">G/Y</text>
</g>
<rect x="116" y="917" width="6" height="8"/>
<circle cx="589" cy="866" r="10"/>

<!-- right block -->
<rect x="640" y="815" width="457" height="102" class="t"/>
<line x1="640" y1="840" x2="1097" y2="840"/><line x1="640" y1="866" x2="1097" y2="866"/><line x1="640" y1="891" x2="1097" y2="891"/>
<g>
<line x1="673" y1="815" x2="673" y2="840"/><line x1="706" y1="815" x2="706" y2="840"/><line x1="739" y1="815" x2="739" y2="840"/><line x1="778" y1="815" x2="778" y2="840"/><line x1="811" y1="815" x2="811" y2="840"/><line x1="844" y1="815" x2="844" y2="840"/><line x1="877" y1="815" x2="877" y2="840"/><line x1="910" y1="815" x2="910" y2="840"/><line x1="945" y1="815" x2="945" y2="840"/><line x1="978" y1="815" x2="978" y2="840"/><line x1="1011" y1="815" x2="1011" y2="840"/><line x1="1044" y1="815" x2="1044" y2="840"/><line x1="1077" y1="815" x2="1077" y2="840"/>
<text x="644" y="824" class="s">13</text><text x="644" y="837" class="s">W/G</text>
<text x="676" y="824" class="s">12*</text><text x="676" y="837" class="s">BR/B</text>
<text x="710" y="824" class="s">11</text><text x="720" y="837" class="s">*</text>
<text x="742" y="824" class="s">10</text><text x="756" y="837" class="s">*</text>
<text x="782" y="824" class="s">9*</text><text x="780" y="837" class="s">%L/Y</text>
<text x="814" y="824" class="s">8*</text><text x="812" y="837" class="s">#LG/R</text>
<text x="848" y="824" class="s">7*</text><text x="845" y="837" class="s">%LG/R</text>
<text x="880" y="824" class="s">6</text><text x="880" y="837" class="s">W/G</text>
<text x="914" y="824" class="s">5</text><text x="913" y="837" class="s">BR/B</text>
<text x="948" y="824" class="s">4</text><text x="948" y="837" class="s">W/G</text>
<text x="982" y="824" class="s">3*</text><text x="982" y="837" class="s">#LG</text>
<text x="1014" y="824" class="s">2</text><text x="1016" y="837" class="s">R/G</text>
<text x="1048" y="824" class="s">1*</text><text x="1045" y="837" class="s">&lt;B/O&gt;</text>
</g>
<g>
<line x1="656" y1="840" x2="656" y2="866"/><line x1="690" y1="840" x2="690" y2="866"/><line x1="722" y1="840" x2="722" y2="866"/><line x1="756" y1="840" x2="756" y2="866"/><line x1="792" y1="840" x2="792" y2="866"/><line x1="826" y1="840" x2="826" y2="866"/><line x1="858" y1="840" x2="858" y2="866"/><line x1="894" y1="840" x2="894" y2="866"/><line x1="928" y1="840" x2="928" y2="866"/><line x1="962" y1="840" x2="962" y2="866"/><line x1="996" y1="840" x2="996" y2="866"/><line x1="1030" y1="840" x2="1030" y2="866"/><line x1="1062" y1="840" x2="1062" y2="866"/>
<text x="660" y="849" class="s">39</text><text x="660" y="862" class="s">L/W</text>
<text x="694" y="849" class="s">38</text><text x="694" y="862" class="s">V/Y</text>
<text x="726" y="849" class="s">37*</text><text x="724" y="862" class="s">&lt;R/W&gt;</text>
<text x="760" y="849" class="s">36</text><text x="772" y="862" class="s">*</text>
<text x="796" y="849" class="s">35</text><text x="796" y="862" class="s">Y/L</text>
<text x="830" y="849" class="s">34</text><text x="830" y="862" class="s">R/L</text>
<text x="862" y="849" class="s">33</text><text x="874" y="862" class="s">*</text>
<text x="898" y="849" class="s">32*</text><text x="896" y="862" class="s">&lt;R/Y&gt;</text>
<text x="932" y="849" class="s">31</text><text x="932" y="862" class="s">B/W</text>
<text x="966" y="849" class="s">30</text><text x="966" y="862" class="s">W/L</text>
<text x="1000" y="849" class="s">29*</text><text x="998" y="862" class="s">%G/G</text>
<text x="1034" y="849" class="s">28*</text><text x="1031" y="862" class="s">[GY/B]</text>
<text x="1066" y="849" class="s">27*</text><text x="1064" y="862" class="s">&lt;Y/G&gt;</text>
</g>
<g>
<line x1="673" y1="866" x2="673" y2="891"/><line x1="706" y1="866" x2="706" y2="891"/><line x1="739" y1="866" x2="739" y2="891"/><line x1="772" y1="866" x2="772" y2="891"/><line x1="808" y1="866" x2="808" y2="891"/><line x1="841" y1="866" x2="841" y2="891"/><line x1="877" y1="866" x2="877" y2="891"/><line x1="912" y1="866" x2="912" y2="891"/><line x1="945" y1="866" x2="945" y2="891"/><line x1="980" y1="866" x2="980" y2="891"/><line x1="1014" y1="866" x2="1014" y2="891"/><line x1="1046" y1="866" x2="1046" y2="891"/><line x1="1080" y1="866" x2="1080" y2="891"/>
<text x="644" y="875" class="s">66</text><text x="652" y="888" class="s">*</text>
<text x="676" y="875" class="s">64</text><text x="678" y="888" class="s">P/G</text>
<text x="710" y="875" class="s">63</text><text x="716" y="888" class="s">GY</text>
<text x="742" y="875" class="s">62</text><text x="744" y="888" class="s">R/B</text>
<text x="776" y="875" class="s">61</text><text x="786" y="888" class="s">*</text>
<text x="812" y="875" class="s">60</text><text x="812" y="888" class="s">P/L</text>
<text x="845" y="875" class="s">59</text><text x="857" y="888" class="s">R</text>
<text x="880" y="875" class="s">58</text><text x="880" y="888" class="s">G/R</text>
<text x="916" y="875" class="s">57</text><text x="916" y="888" class="s">Y/L</text>
<text x="948" y="875" class="s">56</text><text x="958" y="888" class="s">P</text>
<text x="984" y="875" class="s">55</text><text x="984" y="888" class="s">W/G</text>
<text x="1018" y="875" class="s">54</text><text x="1020" y="888" class="s">BR</text>
<text x="1050" y="875" class="s">53</text><text x="1048" y="888" class="s">LG/W</text>
</g>
<g>
<line x1="656" y1="891" x2="656" y2="917"/><line x1="690" y1="891" x2="690" y2="917"/><line x1="724" y1="891" x2="724" y2="917"/><line x1="756" y1="891" x2="756" y2="917"/><line x1="792" y1="891" x2="792" y2="917"/><line x1="826" y1="891" x2="826" y2="917"/><line x1="860" y1="891" x2="860" y2="917"/><line x1="894" y1="891" x2="894" y2="917"/><line x1="928" y1="891" x2="928" y2="917"/><line x1="962" y1="891" x2="962" y2="917"/><line x1="996" y1="891" x2="996" y2="917"/><line x1="1030" y1="891" x2="1030" y2="917"/><line x1="1064" y1="891" x2="1064" y2="917"/>
<text x="660" y="900" class="s">91</text><text x="670" y="913" class="s">O</text>
<text x="694" y="900" class="s">90</text><text x="694" y="913" class="s">P/B</text>
<text x="728" y="900" class="s">89</text><text x="726" y="913" class="s">BR/Y</text>
<text x="760" y="900" class="s">88</text><text x="760" y="913" class="s">LG/B</text>
<text x="796" y="900" class="s">87</text><text x="806" y="913" class="s">*</text>
<text x="830" y="900" class="s">86</text><text x="840" y="913" class="s">G</text>
<text x="864" y="900" class="s">85</text><text x="874" y="913" class="s">L</text>
<text x="898" y="900" class="s">84*</text><text x="895" y="913" class="s">&lt;Y/R&gt;</text>
<text x="932" y="900" class="s">83</text><text x="936" y="913" class="s">GY</text>
<text x="966" y="900" class="s">82*</text><text x="964" y="913" class="s">&lt;P/L&gt;</text>
<text x="1000" y="900" class="s">81*</text><text x="1002" y="913" class="s">&lt;L&gt;</text>
<text x="1034" y="900" class="s">80</text><text x="1044" y="913" class="s">V</text>
<text x="1068" y="900" class="s">79</text><text x="1068" y="913" class="s">Y/G</text>
</g>
<rect x="1090" y="917" width="6" height="8"/>
<text x="890" y="787" class="s">#G</text><text x="884" y="799" class="s">%GY/R</text><line x1="898" y1="802" x2="898" y2="828"/>
<line x1="680" y1="880" x2="688" y2="930"/><text x="662" y="942">&lt;B/L&gt;</text>
<line x1="884" y1="880" x2="896" y2="930"/><text x="872" y="942">&lt;V/R&gt;</text>

<!-- B2-02 capacitor -->
<text x="1116" y="766">B2-02 CAPACITOR(EM)</text>
<path d="M1292 800 h74 l6 6 v30 l-6 6 h-74 l-6 -6 v-30 z" class="t"/>
<rect x="1300" y="808" width="32" height="22"/><rect x="1332" y="808" width="30" height="22"/>
<text x="1303" y="823" class="s">B/W</text><text x="1338" y="823" class="s">B/L</text>
<rect x="1322" y="793" width="18" height="8"/><rect x="1308" y="842" width="8" height="6"/><rect x="1346" y="842" width="8" height="6"/>

<!-- B2-07 -->
<text x="1116" y="876">B2-07 HEATED OXYGEN</text><text x="1168" y="889">SENSOR(FRONT)(EM)</text>
<path d="M1192 940 h74 l6 6 v68 l-6 6 h-74 l-6 -6 v-68 z" class="t"/>
<rect x="1196" y="958" width="28" height="24"/><rect x="1224" y="958" width="32" height="24"/>
<rect x="1196" y="982" width="28" height="26"/><rect x="1224" y="982" width="32" height="26"/>
<text x="1198" y="974" class="s">P/L</text><text x="1230" y="974" class="s">B/L</text>
<text x="1206" y="999" class="s">O</text><text x="1228" y="999" class="s">LG/R</text>

<!-- B2-09 -->
<text x="1340" y="876">B2-09 ENGINE COOLANT</text><text x="1366" y="889">TEMPERATURE SENSOR</text><text x="1366" y="902">(EM)</text>
<path d="M1404 956 h70 l6 6 v32 l-6 6 h-70 l-6 -6 v-32 z" class="t"/>
<rect x="1412" y="966" width="30" height="24"/><rect x="1442" y="966" width="30" height="24"/>
<text x="1424" y="982" class="s">O</text><text x="1446" y="982" class="s">V/Y</text>
<rect x="1432" y="948" width="14" height="8"/>

<!-- B2-03 -->
<text x="18" y="984">B2-03 IGNITION COIL NO.1(EM)</text>
<text x="200" y="1003" class="s">C</text><text x="230" y="1000" class="s">B</text><text x="262" y="1003" class="s">A</text>
<path d="M182 1010 h92 l8 8 v38 l-8 8 h-92 l-8 -8 v-38 z" class="t"/>
<rect x="186" y="1030" width="32" height="24"/><rect x="218" y="1030" width="32" height="24"/><rect x="250" y="1030" width="32" height="24"/>
<text x="198" y="1046" class="s">R</text><text x="222" y="1046" class="s">B/W</text><text x="254" y="1046" class="s">B/L</text>
<rect x="224" y="1012" width="14" height="8"/><rect x="212" y="1066" width="6" height="6"/><rect x="238" y="1066" width="6" height="6"/>

<!-- B2-04 -->
<text x="456" y="984">B2-04 IGNITION COIL NO.2(EM)</text>
<text x="628" y="1003" class="s">C</text><text x="658" y="1000" class="s">B</text><text x="694" y="1003" class="s">A</text>
<path d="M610 1010 h92 l8 8 v38 l-8 8 h-92 l-8 -8 v-38 z" class="t"/>
<rect x="614" y="1030" width="32" height="24"/><rect x="646" y="1030" width="32" height="24"/><rect x="678" y="1030" width="32" height="24"/>
<text x="626" y="1046" class="s">W</text><text x="650" y="1046" class="s">B/W</text><text x="682" y="1046" class="s">B/L</text>
<rect x="652" y="1012" width="14" height="8"/><rect x="640" y="1066" width="6" height="6"/><rect x="666" y="1066" width="6" height="6"/>

<!-- B2-29 -->
<text x="898" y="984">B2-29 HEATED OXYGEN</text><text x="916" y="997">SENSOR(REAR)(EM)</text>
<path d="M968 1016 h70 l4 4 v50 l-4 4 h-70 l-4 -4 v-50 z" class="t"/>
<rect x="972" y="1020" width="32" height="24"/><rect x="1004" y="1020" width="34" height="24"/>
<rect x="972" y="1044" width="32" height="24"/><rect x="1004" y="1044" width="34" height="24"/>
<text x="976" y="1036" class="s">Y/L</text><text x="1010" y="1036" class="s">B/L</text>
<text x="984" y="1060" class="s">O</text><text x="1010" y="1060" class="s">G/R</text>
<rect x="986" y="1004" width="28" height="8"/>
</svg>
</body></html>
